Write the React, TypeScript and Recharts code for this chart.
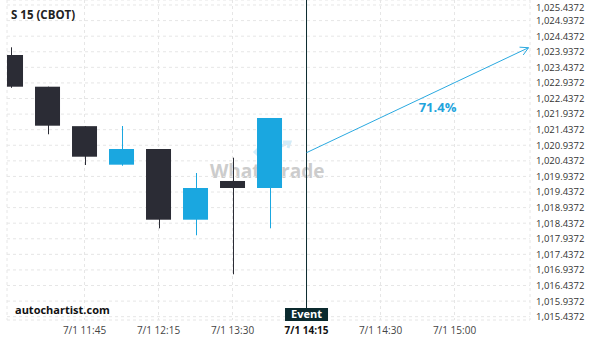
import { ComposedChart, Bar, Line, XAxis, YAxis, CartesianGrid, ReferenceLine } from 'recharts';

const slotTimes = ['', '', '7/1 11:45', '', '7/1 12:15', '', '7/1 13:30', '', '7/1 14:15', '', '7/1 14:30', '', '7/1 15:00', '', ''];
const timeTicks = [2, 4, 6, 8, 10, 12];

const opens = [1023.833, 1022.816, 1021.55, 1020.314, 1020.817, 1018.549, 1019.791, 1019.566];
const highs = [1024.08, 1022.816, 1021.55, 1021.555, 1020.817, 1020.047, 1020.538, 1021.812];
const lows = [1022.78, 1021.289, 1020.304, 1020.28, 1018.273, 1018.049, 1016.797, 1018.273];
const closes = [1022.816, 1021.565, 1020.57, 1020.817, 1018.549, 1019.566, 1019.566, 1021.812];

const eventSlot = 8;
const arrowEndSlot = 14;
const arrowFrom = 1020.699;
const arrowTo = 1024.067;
const probability = '71.4%';

const priceTicks = [
  1015.4372, 1015.9372, 1016.4372, 1016.9372, 1017.4372, 1017.9372, 1018.4372,
  1018.9372, 1019.4372, 1019.9372, 1020.4372, 1020.9372, 1021.4372, 1021.9372,
  1022.4372, 1022.9372, 1023.4372, 1023.9372, 1024.4372, 1024.9372, 1025.4372,
];

const BULL = '#1aa7e0';
const BEAR = '#2b2c35';
const FONT = '"Open Sans", sans-serif';

const candleRows = opens.map((o, i) => ({
  x: i,
  open: o,
  high: highs[i],
  low: lows[i],
  close: closes[i],
  range: [lows[i], highs[i]],
}));

const data = [...candleRows, { x: eventSlot, arrow: arrowFrom }, { x: arrowEndSlot, arrow: arrowTo }];

function Candle(props: any) {
  const { x, y, width, height, payload } = props;
  if (!payload || payload.open == null) return <g />;
  const { open, close, high, low } = payload;
  const top0 = height < 0 ? y + height : y;
  const h = Math.abs(height);
  const k = high - low > 0 ? h / (high - low) : 0;
  const yAt = (v: number) => top0 + (high - v) * k;
  const color = close >= open ? BULL : BEAR;
  const bodyTop = yAt(Math.max(open, close));
  const bodyBottom = yAt(Math.min(open, close));
  const cx = Math.round(x + width / 2) + 0.5;
  return (
    <g>
      <line x1={cx} x2={cx} y1={top0} y2={top0 + h} stroke={color} strokeWidth={1} />
      <rect x={x} y={bodyTop} width={width} height={Math.max(bodyBottom - bodyTop, 1)} fill={color} />
    </g>
  );
}

function ArrowDot(props: any) {
  const { cx, cy, index, points } = props;
  if (index !== data.length - 1 || cx == null) return <g key={`d${index}`} />;
  const pts = (points || []).filter((p: any) => p && p.y != null);
  const start = pts.length ? pts[0] : { x: cx - 100, y: cy + 50 };
  const dx = cx - start.x;
  const dy = cy - start.y;
  const len = Math.hypot(dx, dy) || 1;
  const ux = dx / len;
  const uy = dy / len;
  const arm = 9;
  const a = 0.5;
  const rot = (s: number) => ({
    x: cx - arm * (ux * Math.cos(s * a) - uy * Math.sin(s * a)),
    y: cy - arm * (ux * Math.sin(s * a) + uy * Math.cos(s * a)),
  });
  const p1 = rot(1);
  const p2 = rot(-1);
  const mx = (start.x + cx) / 2;
  const my = (start.y + cy) / 2;
  return (
    <g key={`d${index}`}>
      <polyline points={`${p1.x},${p1.y} ${cx},${cy} ${p2.x},${p2.y}`} fill="none" stroke="#2aa9e0" strokeWidth={1} />
      <text x={mx + 20} y={my + 12} textAnchor="middle" fill="#1fa4dc" fontFamily={FONT} fontWeight="bold" fontSize={13}>
        {probability}
      </text>
    </g>
  );
}

function EventLabel(props: any) {
  const vb = props.viewBox || {};
  const x = vb.x ?? 0;
  const bottom = (vb.y ?? 0) + (vb.height ?? 0);
  return (
    <g>
      <rect x={x - 21.5} y={bottom - 12} width={43} height={13} fill="#0b2a2e" />
      <text x={x} y={bottom - 2.5} textAnchor="middle" fill="#fff" fontFamily={FONT} fontWeight="bold" fontSize={11}>
        Event
      </text>
    </g>
  );
}

function TimeTick(props: any) {
  const { x, y, payload } = props;
  const isEvent = payload.value === eventSlot;
  return (
    <text
      x={x}
      y={y + 13.5}
      textAnchor="middle"
      fill={isEvent ? '#111' : '#444'}
      fontWeight={isEvent ? 'bold' : 'normal'}
      fontFamily={FONT}
      fontSize={10}
    >
      {slotTimes[payload.value]}
    </text>
  );
}

const fmtPrice = (v: number) => v.toLocaleString('en-US', { minimumFractionDigits: 4, maximumFractionDigits: 4 });

function PriceTick(props: any) {
  const { x, y, payload } = props;
  // keep the top label's box inside the page
  const base = Math.max(y + 3.4, 10.5);
  return (
    <text x={x} y={base} textAnchor="start" fill="#333" fontFamily={FONT} fontSize={9.5}>
      {fmtPrice(payload.value)}
    </text>
  );
}

export default function App() {
  return (
    <div style={{ position: 'absolute', left: 0, top: 0, width: 600, height: 340, background: '#fff', fontFamily: FONT }}>
      <div style={{ position: 'absolute', left: 210, top: 140 }}>
        <svg width={120} height={45} style={{ position: 'absolute', left: 0, top: 0 }}>
          <path d="M45 12 L52 5 L59 12 L52 19 Z" fill="none" stroke="#d3ecf8" strokeWidth={3} />
          <path d="M55 14 L80 2 M73 2 L80 2 L78 8" fill="none" stroke="#d3ecf8" strokeWidth={3} />
        </svg>
        <div style={{ position: 'absolute', left: 0, top: 18, fontSize: 19, fontWeight: 'bold', color: '#cccccc', whiteSpace: 'nowrap' }}>
          WhatsTrade
        </div>
      </div>
      <div style={{ position: 'absolute', left: 0, top: 0 }}>
        <ComposedChart width={600} height={340} data={data} margin={{ top: 0, right: 0, left: 7, bottom: 0 }}>
          <CartesianGrid strokeDasharray="3 3" stroke="#e6e6e6" />
          <XAxis
            dataKey="x"
            type="number"
            domain={[-0.095, 14.04]}
            ticks={timeTicks}
            allowDataOverflow
            axisLine={false}
            tickLine={false}
            tickSize={0}
            tickMargin={0}
            height={20}
            interval={0}
            tick={<TimeTick />}
          />
          <YAxis
            orientation="right"
            type="number"
            domain={[1015.331, 1025.5976]}
            ticks={priceTicks}
            allowDataOverflow
            axisLine={false}
            tickLine={false}
            tickSize={0}
            tickMargin={6}
            width={70}
            interval={0}
            tick={<PriceTick />}
          />
          <Bar dataKey="range" barSize={25} shape={<Candle />} isAnimationActive={false} />
          <ReferenceLine x={eventSlot} stroke="#0b2a2e" strokeWidth={1} label={<EventLabel />} />
          <Line dataKey="arrow" stroke="#2aa9e0" strokeWidth={1} dot={<ArrowDot />} activeDot={false} isAnimationActive={false} />
        </ComposedChart>
      </div>
      <div style={{ position: 'absolute', left: 11, top: 7, fontSize: 11.5, fontWeight: 'bold', color: '#222' }}>S 15 (CBOT)</div>
      <div style={{ position: 'absolute', left: 15, top: 302, fontSize: 11, fontWeight: 'bold', color: '#111' }}>autochartist.com</div>
    </div>
  );
}
